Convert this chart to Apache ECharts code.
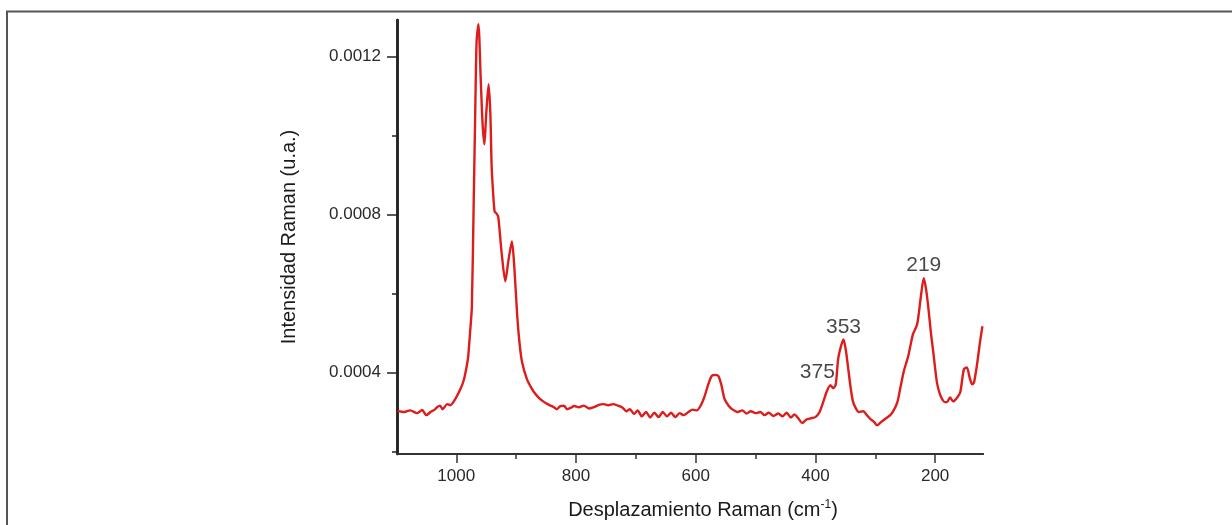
<!DOCTYPE html>
<html>
<head>
<meta charset="utf-8">
<style>
  html, body { margin: 0; padding: 0; background: #fff; }
  #chart { width: 1232px; height: 525px; }
</style>
<script src="https://cdn.jsdelivr.net/npm/echarts@6/dist/echarts.min.js"></script>
</head>
<body>
<div id="chart"></div>
<script>
// Raman spectrum: wavenumber (cm-1) and intensity (a.u.)
const wavenumbers = [
  1098, 1087, 1077, 1065, 1057, 1050, 1043, 1036, 1032, 1027, 1023, 1015, 1010, 1002,
  993, 987, 982, 980, 977, 974, 971, 968, 966, 963, 959, 956, 953, 950, 946, 943, 941,
  939, 936, 933, 930, 927, 924, 918, 913, 907, 903, 898, 894, 890, 882, 876, 870, 862,
  853, 845, 837, 832, 826, 820, 815, 808, 803, 795, 787, 778, 770, 762, 754, 746, 738,
  730, 722, 716, 710, 703, 697, 690, 683, 676, 669, 662, 655, 648, 641, 634, 627, 620,
  612, 605, 598, 591, 585, 579, 573, 567, 562, 557, 552, 545, 538, 530, 522, 515, 508,
  500, 492, 485, 478, 470, 462, 455, 448, 441, 435, 428, 422, 415, 408, 400, 393, 387,
  381, 375, 370, 366, 362, 357, 353, 349, 345, 341, 337, 332, 328, 320, 314, 308, 302,
  297, 290, 282, 275, 270, 263, 258, 252, 245, 237, 230, 224, 219, 215, 211, 207, 203,
  197, 192, 188, 184, 180, 175, 170, 164, 158, 152, 147, 142, 138, 135, 130, 125, 121
];
const intensities = [
  0.000303, 0.000300, 0.000304, 0.000297, 0.000305, 0.000292, 0.000300, 0.000306, 0.000312, 0.000316, 0.000307, 0.000320, 0.000317, 0.000332,
  0.000358, 0.000383, 0.000421, 0.000441, 0.000500, 0.000565, 0.000818, 0.001087, 0.001239, 0.001282, 0.001138, 0.001029, 0.000978, 0.001054, 0.001130, 0.001054, 0.000927,
  0.000869, 0.000808, 0.000803, 0.000795, 0.000750, 0.000700, 0.000631, 0.000682, 0.000732, 0.000667, 0.000540, 0.000470, 0.000426, 0.000383, 0.000365, 0.000350, 0.000336,
  0.000325, 0.000318, 0.000312, 0.000307, 0.000315, 0.000316, 0.000307, 0.000311, 0.000315, 0.000312, 0.000316, 0.000309, 0.000312, 0.000318, 0.000320, 0.000317, 0.000320,
  0.000316, 0.000311, 0.000302, 0.000307, 0.000295, 0.000304, 0.000289, 0.000300, 0.000286, 0.000298, 0.000287, 0.000300, 0.000289, 0.000298, 0.000287, 0.000297, 0.000292,
  0.000300, 0.000306, 0.000304, 0.000318, 0.000340, 0.000370, 0.000392, 0.000394, 0.000391, 0.000368, 0.000334, 0.000316, 0.000306, 0.000300, 0.000304, 0.000296, 0.000302,
  0.000297, 0.000300, 0.000292, 0.000298, 0.000290, 0.000296, 0.000289, 0.000298, 0.000286, 0.000294, 0.000283, 0.000272, 0.000281, 0.000284, 0.000287, 0.000300, 0.000325,
  0.000352, 0.000368, 0.000360, 0.000370, 0.000434, 0.000468, 0.000484, 0.000455, 0.000408, 0.000360, 0.000325, 0.000308, 0.000300, 0.000302, 0.000292, 0.000282, 0.000275,
  0.000266, 0.000275, 0.000284, 0.000292, 0.000302, 0.000325, 0.000362, 0.000405, 0.000441, 0.000497, 0.000522, 0.000590, 0.000639, 0.000610, 0.000560, 0.000500, 0.000451,
  0.000375, 0.000345, 0.000332, 0.000325, 0.000325, 0.000337, 0.000327, 0.000335, 0.000350, 0.000408, 0.000413, 0.000385, 0.000370, 0.000375, 0.000420, 0.000477, 0.000517
];

// Annotated band positions (cm-1)
const peakLabels = [375, 353, 219];

// Axis ticks
const xMinorTicks = [200, 300, 400, 500, 600, 700, 800, 900, 1000];
const xMajorTicks = [200, 400, 600, 800, 1000];
const yMinorTicks = [0.0002, 0.0004, 0.0006, 0.0008, 0.0010, 0.0012];
const yMajorTicks = [0.0004, 0.0008, 0.0012];

const spectrum = wavenumbers.map((w, i) => [w, intensities[i]]);
const peaks = peakLabels.map(w => [w, intensities[wavenumbers.indexOf(w)]]);

const FONT = '"Liberation Sans", Arial, Helvetica, sans-serif';
const X_MIN = 120, X_MAX = 1099;
const Y_MIN = 0.0001936, Y_MAX = 0.0012927;

const chart = echarts.init(document.getElementById('chart'), null, { renderer: 'canvas' });

const baseX = {
  type: 'value', min: X_MIN, max: X_MAX, inverse: true, position: 'bottom',
  splitLine: { show: false },
  axisLine: { show: true, lineStyle: { color: '#333', width: 2 } }
};
const baseY = {
  type: 'value', min: Y_MIN, max: Y_MAX, position: 'left',
  splitLine: { show: false },
  axisLine: { show: true, lineStyle: { color: '#222', width: 2.5 } }
};

chart.setOption({
  animation: false,
  backgroundColor: '#ffffff',
  grid: { left: 397, right: 249, top: 20, bottom: 70, containLabel: false },
  graphic: [{
    type: 'polyline',
    shape: { points: [[7, 540], [7, 11.5], [1245, 11.5]] },
    style: { stroke: '#555', lineWidth: 2, fill: null },
    silent: true
  }],
  xAxis: [
    Object.assign({}, baseX, {
      axisTick: { show: true, length: 5, customValues: xMinorTicks, lineStyle: { color: '#333', width: 1.5 } },
      axisLabel: { show: false }
    }),
    Object.assign({}, baseX, {
      axisTick: { show: true, length: 9, customValues: xMajorTicks, lineStyle: { color: '#333', width: 1.5 } },
      axisLabel: {
        show: true, customValues: xMajorTicks, margin: 14,
        color: '#2a2a2a', fontSize: 17, fontFamily: FONT,
        formatter: v => String(v)
      },
      name: 'Desplazamiento Raman (cm{sup|-1})',
      nameLocation: 'middle',
      nameGap: 45,
      nameTextStyle: {
        color: '#1a1a1a', fontSize: 20, fontFamily: FONT, padding: [0, 0, 0, 26],
        rich: { sup: { fontSize: 12, fontFamily: FONT, color: '#1a1a1a', padding: [0, 0, 10, 0] } }
      }
    })
  ],
  yAxis: [
    Object.assign({}, baseY, {
      axisTick: { show: true, length: 5, customValues: yMinorTicks, lineStyle: { color: '#222', width: 1.5 } },
      axisLabel: { show: false }
    }),
    Object.assign({}, baseY, {
      axisTick: { show: true, length: 10, customValues: yMajorTicks, lineStyle: { color: '#222', width: 1.5 } },
      axisLabel: {
        show: true, customValues: yMajorTicks, margin: 16,
        color: '#2a2a2a', fontSize: 17, fontFamily: FONT,
        formatter: v => v.toFixed(4)
      },
      name: 'Intensidad Raman (u.a.)',
      nameLocation: 'middle',
      nameGap: 98,
      nameTextStyle: { color: '#1a1a1a', fontSize: 20, fontFamily: FONT }
    })
  ],
  series: [
    {
      type: 'line',
      xAxisIndex: 0, yAxisIndex: 0,
      data: spectrum,
      showSymbol: false,
      smooth: 0.25,
      lineStyle: { color: '#dd1c1c', width: 2.4 },
      z: 3
    },
    {
      type: 'scatter',
      xAxisIndex: 0, yAxisIndex: 0,
      data: peaks.map((p, i) => ({
        value: p,
        label: { offset: i === 0 ? [-13, 0] : [0, 0] }
      })),
      symbolSize: 0,
      itemStyle: { color: '#dd1c1c' },
      label: {
        show: true, position: 'top', distance: 2,
        formatter: p => String(p.value[0]),
        color: '#1a1a1a', fontSize: 21, fontFamily: FONT
      },
      emphasis: { disabled: true },
      z: 4
    }
  ]
});
</script>
</body>
</html>
